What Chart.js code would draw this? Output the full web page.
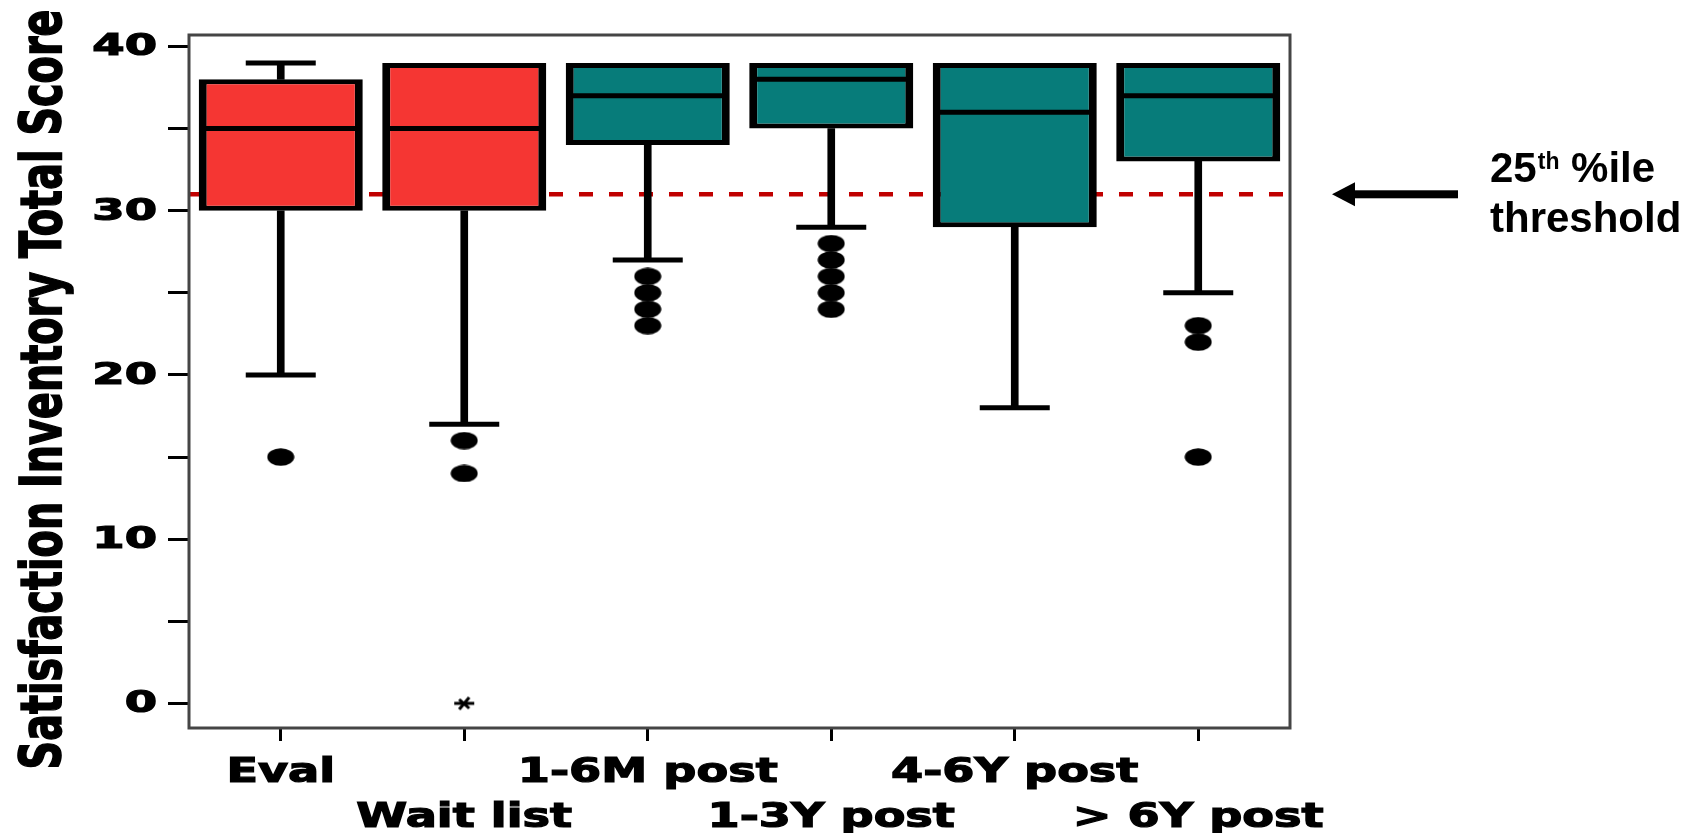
<!DOCTYPE html>
<html lang="en">
<head>
<meta charset="UTF-8">
<title>Satisfaction Inventory Total Score</title>
<script src="https://cdn.jsdelivr.net/npm/chart.js"></script>
<style>
  body { margin: 0; background: #ffffff; }
  #wrap { width: 1695px; height: 833px; }
</style>
</head>
<body>
<div id="wrap"><canvas id="boxChart" width="1695" height="833"></canvas></div>

<script>
    // box plot values
    const categories = ["Eval", "Wait list", "1-6M post", "1-3Y post", "4-6Y post", "> 6Y post"];
    const whiskerLow = [20, 17, 27, 29, 18, 25];
    const q1 = [30, 30, 34, 35, 29, 33];
    const median = [35, 35, 37, 38, 36, 37];
    const q3 = [38, 39, 39, 39, 39, 39];
    const whiskerHigh = [39, 39, 39, 39, 39, 39];
    const outliers = [[15], [16, 14], [26, 25, 24, 23], [28, 27, 26, 25, 24], [], [23, 22, 15]];
    const extremes = [[], [0], [], [], [], []];
    const threshold = 31;

    const yTickValues = [0, 5, 10, 15, 20, 25, 30, 35, 40];
    const yTickLabels = ["0", "", "10", "", "20", "", "30", "", "40"];
    const yTitle = "Satisfaction Inventory Total Score";

    // styles
    const red = "#F53633";
    const teal = "#077C7A";
    const boxFill = [red, red, teal, teal, teal, teal];

    // small helpers to turn the lists into points
    function toPoints(values) {
        return values.map((v, i) => ({ x: categories[i], y: v }));
    }
    function groupPoints(groups) {
        let pts = [];
        groups.forEach((vals, i) => vals.forEach(v => pts.push({ x: categories[i], y: v })));
        return pts;
    }

    // ellipse dot used for outliers (the picture is stretched sideways)
    function makeDot() {
        const c = document.createElement("canvas");
        c.width = 28; c.height = 18;
        const g = c.getContext("2d");
        g.fillStyle = "#000";
        g.beginPath();
        g.ellipse(14, 9, 13.5, 8.7, 0, 0, Math.PI * 2);
        g.fill();
        return c;
    }
    // asterisk used for the extreme value
    function makeStar() {
        const c = document.createElement("canvas");
        c.width = 26; c.height = 16;
        const g = c.getContext("2d");
        g.strokeStyle = "#000";
        g.lineWidth = 3;
        g.beginPath();
        g.moveTo(3, 8); g.lineTo(23, 8);
        g.moveTo(18, 2); g.lineTo(8, 14);
        g.moveTo(8, 4); g.lineTo(18, 13);
        g.stroke();
        return c;
    }

    const lowerWhisker = whiskerLow.map((v, i) => v < q1[i] ? [v, q1[i]] : null);
    const upperWhisker = whiskerHigh.map((v, i) => v > q3[i] ? [q3[i], v] : null);
    const upperCaps = whiskerHigh.map((v, i) => v > q3[i] ? v : null);

    const extras = {
        id: "extras",
        beforeDatasetsDraw(chart) {
            // dashed threshold line, under the boxes
            const ctx = chart.ctx;
            const area = chart.chartArea;
            const y = chart.scales.y.getPixelForValue(threshold);
            ctx.save();
            ctx.strokeStyle = "#C00000";
            ctx.lineWidth = 4.5;
            ctx.setLineDash([14, 16]);
            ctx.beginPath();
            ctx.moveTo(area.left, y);
            ctx.lineTo(area.right, y);
            ctx.stroke();
            ctx.restore();
        },
        afterDraw(chart) {
            const ctx = chart.ctx;
            const area = chart.chartArea;
            const yScale = chart.scales.y;
            const xScale = chart.scales.x;

            // frame
            ctx.save();
            ctx.strokeStyle = "#454545";
            ctx.lineWidth = 3;
            ctx.strokeRect(area.left, area.top, area.right - area.left, area.bottom - area.top);
            ctx.restore();

            // y tick labels, wide and heavy like the original
            ctx.save();
            ctx.font = 'bold 30px "DejaVu Sans"';
            ctx.fillStyle = "#000";
            ctx.strokeStyle = "#000";
            ctx.lineWidth = 1.2;
            ctx.textAlign = "right";
            ctx.textBaseline = "middle";
            const sx = 1.55;
            ctx.scale(sx, 1);
            yTickValues.forEach((v, i) => {
                if (!yTickLabels[i]) return;
                const y = yScale.getPixelForValue(v) + 1;
                ctx.fillText(yTickLabels[i], (area.left - 32) / sx, y);
                ctx.strokeText(yTickLabels[i], (area.left - 32) / sx, y);
            });
            ctx.restore();

            // x labels on two staggered rows
            ctx.save();
            ctx.font = 'bold 33px "DejaVu Sans"';
            ctx.fillStyle = "#000";
            ctx.strokeStyle = "#000";
            ctx.lineWidth = 1.2;
            ctx.textAlign = "center";
            ctx.textBaseline = "alphabetic";
            const lx = 1.4;
            ctx.scale(lx, 1);
            categories.forEach((c, i) => {
                const x = xScale.getPixelForValue(i);
                const y = area.bottom + (i % 2 === 0 ? 54 : 99);
                ctx.fillText(c, x / lx, y);
                ctx.strokeText(c, x / lx, y);
            });
            ctx.restore();

            // y title, rotated and squeezed along its length
            ctx.save();
            ctx.font = 'bold 34px "DejaVu Sans"';
            ctx.fillStyle = "#000";
            ctx.strokeStyle = "#000";
            ctx.lineWidth = 1;
            ctx.textAlign = "center";
            ctx.textBaseline = "alphabetic";
            const tw = ctx.measureText(yTitle).width;
            ctx.translate(61, (area.top + area.bottom) / 2 + 8);
            ctx.rotate(-Math.PI / 2);
            ctx.scale(760 / tw, 1.69);
            ctx.fillText(yTitle, 0, 0);
            ctx.strokeText(yTitle, 0, 0);
            ctx.restore();

            // arrow pointing at the threshold
            const ay = yScale.getPixelForValue(threshold);
            const tipX = area.right + 42;
            ctx.save();
            ctx.fillStyle = "#000";
            ctx.fillRect(tipX + 20, ay - 4, 106, 8);
            ctx.beginPath();
            ctx.moveTo(tipX, ay);
            ctx.lineTo(tipX + 23, ay - 12);
            ctx.lineTo(tipX + 23, ay + 12);
            ctx.closePath();
            ctx.fill();

            // annotation text
            const tx = area.right + 200;
            ctx.textAlign = "left";
            ctx.textBaseline = "alphabetic";
            ctx.font = 'bold 42px "Liberation Sans", Arial, sans-serif';
            ctx.fillText("25", tx, ay - 12);
            let w = ctx.measureText("25").width;
            ctx.font = 'bold 23px "Liberation Sans", Arial, sans-serif';
            ctx.fillText("th", tx + w + 1, ay - 25);
            w += ctx.measureText("th").width + 1;
            ctx.font = 'bold 42px "Liberation Sans", Arial, sans-serif';
            ctx.fillText(" %ile", tx + w, ay - 12);
            ctx.fillText("threshold", tx, ay + 38);
            ctx.restore();
        }
    };

    const dot = makeDot();
    const star = makeStar();

    new Chart(document.getElementById("boxChart"), {
        type: "bar",
        data: {
            labels: categories,
            datasets: [
                {
                    // boxes from q1 to q3
                    type: "bar",
                    data: q1.map((v, i) => [v, q3[i]]),
                    backgroundColor: boxFill,
                    borderColor: "#000",
                    borderWidth: { left: 8, right: 8, top: 5, bottom: 5 },
                    borderSkipped: false,
                    barPercentage: 0.894,
                    categoryPercentage: 1,
                    grouped: false,
                    order: 3
                },
                {
                    type: "bar",
                    data: lowerWhisker,
                    backgroundColor: "#000",
                    borderWidth: 0,
                    barThickness: 7,
                    grouped: false,
                    order: 4
                },
                {
                    type: "bar",
                    data: upperWhisker,
                    backgroundColor: "#000",
                    borderWidth: 0,
                    barThickness: 7,
                    grouped: false,
                    order: 4
                },
                {
                    // medians
                    type: "line",
                    data: toPoints(median),
                    showLine: false,
                    pointStyle: "line",
                    pointRadius: 80,
                    pointBorderWidth: 5,
                    pointBorderColor: "#000",
                    order: 1
                },
                {
                    // whisker caps
                    type: "line",
                    data: toPoints(whiskerLow).concat(toPoints(upperCaps).filter(p => p.y !== null)),
                    showLine: false,
                    pointStyle: "line",
                    pointRadius: 35,
                    pointBorderWidth: 5,
                    pointBorderColor: "#000",
                    order: 1
                },
                {
                    type: "line",
                    data: groupPoints(outliers),
                    showLine: false,
                    pointStyle: dot,
                    pointRadius: 5,
                    order: 1
                },
                {
                    type: "line",
                    data: groupPoints(extremes),
                    showLine: false,
                    pointStyle: star,
                    pointRadius: 5,
                    order: 1
                }
            ]
        },
        options: {
            responsive: false,
            animation: false,
            devicePixelRatio: 1,
            layout: { autoPadding: false, padding: { top: 35, right: 405, left: 0, bottom: 0 } },
            plugins: {
                legend: { display: false },
                tooltip: { enabled: false }
            },
            scales: {
                x: {
                    offset: true,
                    border: { display: false },
                    grid: {
                        offset: false,
                        drawOnChartArea: false,
                        drawTicks: true,
                        tickLength: 13,
                        tickWidth: 3,
                        tickColor: "#000"
                    },
                    ticks: { display: false },
                    afterFit(scale) { scale.height = 105; }
                },
                y: {
                    min: -1.5,
                    max: 40.7,
                    border: { display: false },
                    grid: {
                        drawOnChartArea: false,
                        drawTicks: true,
                        tickLength: 21,
                        tickWidth: 3,
                        tickColor: "#000"
                    },
                    ticks: { display: false },
                    afterBuildTicks(scale) {
                        scale.ticks = yTickValues.map(v => ({ value: v }));
                    },
                    afterFit(scale) { scale.width = 189; }
                }
            }
        },
        plugins: [extras]
    });
</script>
</body>
</html>
